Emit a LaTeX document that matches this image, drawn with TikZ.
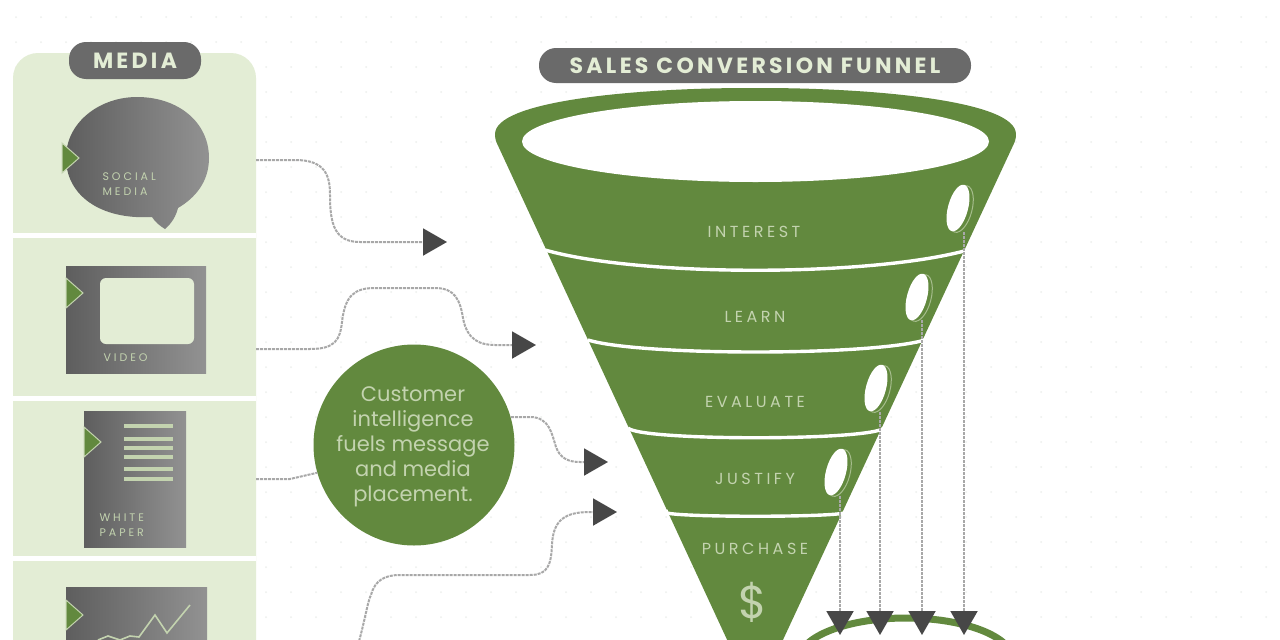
\documentclass[tikz,border=0pt]{standalone}
\usepackage{fontspec}
\setmainfont{Poppins}
\newfontfamily\capsfont[LetterSpace=15]{Poppins}
\newfontfamily\bandfont[LetterSpace=22]{Poppins}
\newfontfamily\tinyfont[LetterSpace=27]{Poppins}
\usetikzlibrary{shapes,arrows.meta}

\definecolor{funnelgreen}{HTML}{62893E}
\definecolor{panelgreen}{HTML}{E3EDD5}
\definecolor{palegreen}{HTML}{C3D3AF}
\definecolor{pillgray}{HTML}{6A6A6A}
\definecolor{icondark}{HTML}{5E5E5E}
\definecolor{iconlight}{HTML}{929292}
\definecolor{tipdark}{HTML}{474747}
\definecolor{dashgray}{HTML}{A8A8A8}
\definecolor{griddot}{HTML}{EDEFED}

\begin{document}
\begin{tikzpicture}[x=1pt,y=-1pt]
        \tikzstyle{pill}=[fill=pillgray,rounded corners=17pt,text=panelgreen,inner sep=0pt,font=\capsfont\bfseries\fontsize{22}{22}\selectfont]
        \tikzstyle{band}=[text=palegreen,font=\bandfont\fontsize{16}{16}\selectfont]
        \tikzstyle{tiny}=[text=palegreen,align=left,font=\tinyfont\fontsize{11}{15}\selectfont]
        \tikzstyle{icon}=[left color=icondark,right color=iconlight]
        \tikzstyle{hole}=[ellipse,fill=white,inner sep=0pt,minimum width=48pt,minimum height=20pt,rotate=75]
        \tikzstyle{holerim}=[ellipse,draw=palegreen!70!funnelgreen,line width=1pt,inner sep=0pt,minimum width=48pt,minimum height=22pt,rotate=75]
        \tikzstyle{line}=[dashgray,line width=2pt,dash pattern=on 3pt off 1pt]
        \tikzstyle{link}=[line,-{Triangle[length=24pt,width=27pt,fill=tipdark,color=tipdark]}]

        \useasboundingbox (0,0) rectangle (1280,640);
        \clip (0,0) rectangle (1280,640);
        \fill[white] (0,0) rectangle (1280,640);

        %faint dots behind everything
        \foreach \x in {16,41,...,1280} {
            \foreach \y in {17,42,...,640} {
                \fill[griddot] (\x,\y) circle (1pt);
            };
        };

        %media panel and its cells
        \fill[panelgreen,rounded corners=25pt] (13,53) rectangle (256,700);
        \foreach \y in {235.5,398.5,558} {
            \fill[white] (13,\y-2.5) rectangle (256,\y+2.5);
        };
        \node [pill,minimum width=132pt,minimum height=37pt] (media) at (135,60.5) {MEDIA};

        %social media bubble
        \shade[icon] (66,158) .. controls (66,122) and (100,97) .. (137,97)
            .. controls (178,97) and (209,122) .. (209,158)
            .. controls (209,182) and (195,198) .. (178,208)
            .. controls (176,216) and (172,223) .. (165,229)
            .. controls (160,226) and (155,222) .. (152,217)
            .. controls (100,220) and (66,195) .. (66,158) -- cycle;
        \node [tiny,anchor=west] (social) at (99,184) {SOCIAL\\MEDIA};

        %video
        \shade[icon] (66,266) rectangle (206,373);
        \fill[panelgreen,rounded corners=6pt] (100,278) rectangle (194,344);
        \node [tiny,anchor=west] (video) at (100,358) {VIDEO};

        %white paper
        \shade[icon] (84,411) rectangle (186,547);
        \foreach \y in {426,439,448,457,469,479} {
            \fill[palegreen] (124,\y-2) rectangle (173,\y+2);
        };
        \node [tiny,anchor=west] (paper) at (96,525) {WHITE\\PAPER};

        %chart
        \shade[icon] (66,587) rectangle (207,660);
        \draw[palegreen,line width=1.6pt] (98,640) -- (108,636) -- (120,640) -- (130,636) -- (139,637) -- (155,615) -- (167,633) -- (190,605);

        %green marks on the icons
        \foreach \x/\y in {62/158,66/293,84/442,66/615} {
            \fill[funnelgreen,draw=palegreen,line width=1pt] (\x,\y-15) -- (\x+17,\y) -- (\x,\y+15) -- cycle;
        };

        %funnel body
        \node [pill,minimum width=432pt,minimum height=35pt] (title) at (755,65.5) {SALES CONVERSION FUNNEL};
        \fill[funnelgreen,rounded corners=6pt] (494,137) .. controls (503,100) and (640,88) .. (755,88)
            .. controls (870,88) and (1008,100) .. (1017,137)
            -- (755,700) -- cycle;
        \fill[white] (755.5,141.5) ellipse (233.5 and 40.5);

        %white lines between the bands
        \foreach \xl/\xr/\ye/\yc in {545/968/250/277,588/925/340/356,628/884/428/441,668/844/511/518} {
            \draw[white,line width=3.4pt] (\xl,\ye) .. controls (640,\yc) and (870,\yc) .. (\xr,\ye);
        };

        \node [band] (interest) at (754,232) {INTEREST};
        \node [band] (learn) at (755,317) {LEARN};
        \node [band] (evaluate) at (755,402) {EVALUATE};
        \node [band] (justify) at (755,479) {JUSTIFY};
        \node [band] (purchase) at (755,549) {PURCHASE};
        \node [text=palegreen,font=\fontsize{46}{46}\selectfont] (dollar) at (753,602) {\$};

        %holes in the bands
        \foreach \n/\x/\y in {1/958/208,2/917/297,3/876/388,4/836/472} {
            \node [holerim] (rim\n) at (\x+3,\y+1) {};
            \node [hole] (hole\n) at (\x,\y) {};
        };

        %customer circle
        \node [circle,fill=funnelgreen,minimum size=201pt,inner sep=0pt] (customer) at (414,445) {};
        \node [text=palegreen,align=center,font=\fontsize{21}{25}\selectfont] (customertext) at (413,447)
            {Customer\\intelligence\\fuels message\\and media\\placement.};

        %ring under the funnel
        \node [ellipse,draw=funnelgreen,fill=white,line width=7pt,minimum width=214pt,minimum height=84pt,inner sep=0pt] (ring) at (906,660) {};

        %free ends
        \coordinate (out1) at (256,160);
        \coordinate (end1) at (447,242);
        \coordinate (out2) at (256,349);
        \coordinate (end2) at (536,345);
        \coordinate (out3) at (256,479);
        \coordinate (end3) at (608,462);
        \coordinate (out4) at (358,645);
        \coordinate (end4) at (617,512);

        \draw[link] (out1) -- (295,160) .. controls (325,160) and (330,175) .. (330,195)
            .. controls (330,225) and (335,242) .. (360,242) -- (end1);
        \draw[link] (out2) -- (310,349) .. controls (335,349) and (340,340) .. (342,322)
            .. controls (345,295) and (355,288) .. (375,288) -- (435,288)
            .. controls (455,288) and (460,300) .. (463,318)
            .. controls (467,340) and (480,345) .. (495,345) -- (end2);
        \draw[line] (out3) -- (290,479) -- (customer.196);
        \draw[link] (customer.16) -- (530,417) .. controls (550,417) and (552,435) .. (556,447)
            .. controls (560,458) and (568,462) .. (580,462) -- (end3);
        \draw[link] (out4) .. controls (365,620) and (368,600) .. (371,595)
            .. controls (375,580) and (385,575) .. (400,575) -- (530,575)
            .. controls (548,575) and (551,565) .. (552,545)
            .. controls (553,520) and (565,512) .. (590,512) -- (end4);

        %arrows from the holes
        \foreach \n/\x/\y in {a/964/232,b/922/320,c/880/412,d/840/496} {
            \coordinate (from\n) at (\x,\y);
            \coordinate (to\n) at (\x,635);
            \draw[link] (from\n) -- (to\n);
        };
\end{tikzpicture}
\end{document}
